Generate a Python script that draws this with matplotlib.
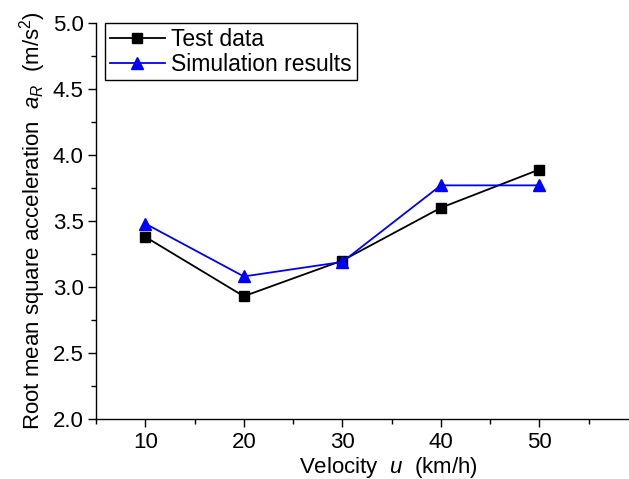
import matplotlib
matplotlib.use("Agg")
import matplotlib.pyplot as plt
from matplotlib.ticker import MultipleLocator

plt.rcParams['font.family'] = ['Liberation Sans', 'DejaVu Sans']
plt.rcParams['mathtext.fontset'] = 'custom'
plt.rcParams['mathtext.rm'] = 'Liberation Sans'
plt.rcParams['mathtext.it'] = 'Liberation Sans:italic'
plt.rcParams['mathtext.bf'] = 'Liberation Sans:bold'

velocity = [10, 20, 30, 40, 50]
test_data = [3.38, 2.93, 3.20, 3.60, 3.89]
simulation = [3.48, 3.08, 3.19, 3.77, 3.77]

fig = plt.figure(figsize=(6.29, 4.79), dpi=100)
ax = fig.add_axes([96 / 629, 60 / 479, 533 / 629, 396 / 479])

ax.plot(velocity, test_data, color='black', lw=1.3, marker='s', ms=6.5,
        label='Test data', zorder=3)
ax.plot(velocity, simulation, color='blue', lw=1.3, marker='^', ms=8,
        label='Simulation results', zorder=4)

ax.set_xlim(5, 59.1)
ax.set_ylim(2.0, 5.0)
ax.xaxis.set_major_locator(MultipleLocator(10))
ax.xaxis.set_minor_locator(MultipleLocator(5))
ax.yaxis.set_major_locator(MultipleLocator(0.5))
ax.yaxis.set_minor_locator(MultipleLocator(0.25))
ax.yaxis.set_major_formatter(matplotlib.ticker.FormatStrFormatter('%.1f'))

for s in ['top', 'right']:
    ax.spines[s].set_visible(False)
for s in ['left', 'bottom']:
    ax.spines[s].set_linewidth(1.0)

ax.tick_params(which='major', direction='out', length=6, width=1.0, labelsize=16, pad=3)
ax.tick_params(which='minor', direction='out', length=3.5, width=1.0)

ax.set_xlabel(r'Velocity  $u$  (km/h)', fontsize=16)
ax.xaxis.set_label_coords((388 - 96) / 533, -(473 - 419) / 396, transform=ax.transAxes)
ax.xaxis.label.set_va('baseline')
ax.set_ylabel(r'Root mean square acceleration  $a_R$  (m/s$^2$)', fontsize=16)
ax.yaxis.set_label_coords(-(96 - 33) / 533, 0.5)
ax.yaxis.label.set_va('center')

leg = ax.legend(loc='upper left', bbox_to_anchor=(9 / 533, 1.0), fontsize=16.5,
                frameon=True, fancybox=False, edgecolor='black', framealpha=1,
                handlelength=2.4, handletextpad=0.3, borderpad=0.2,
                labelspacing=0.1, borderaxespad=0.0)
leg.get_frame().set_linewidth(1.0)

fig.savefig('out.png', dpi=100)
